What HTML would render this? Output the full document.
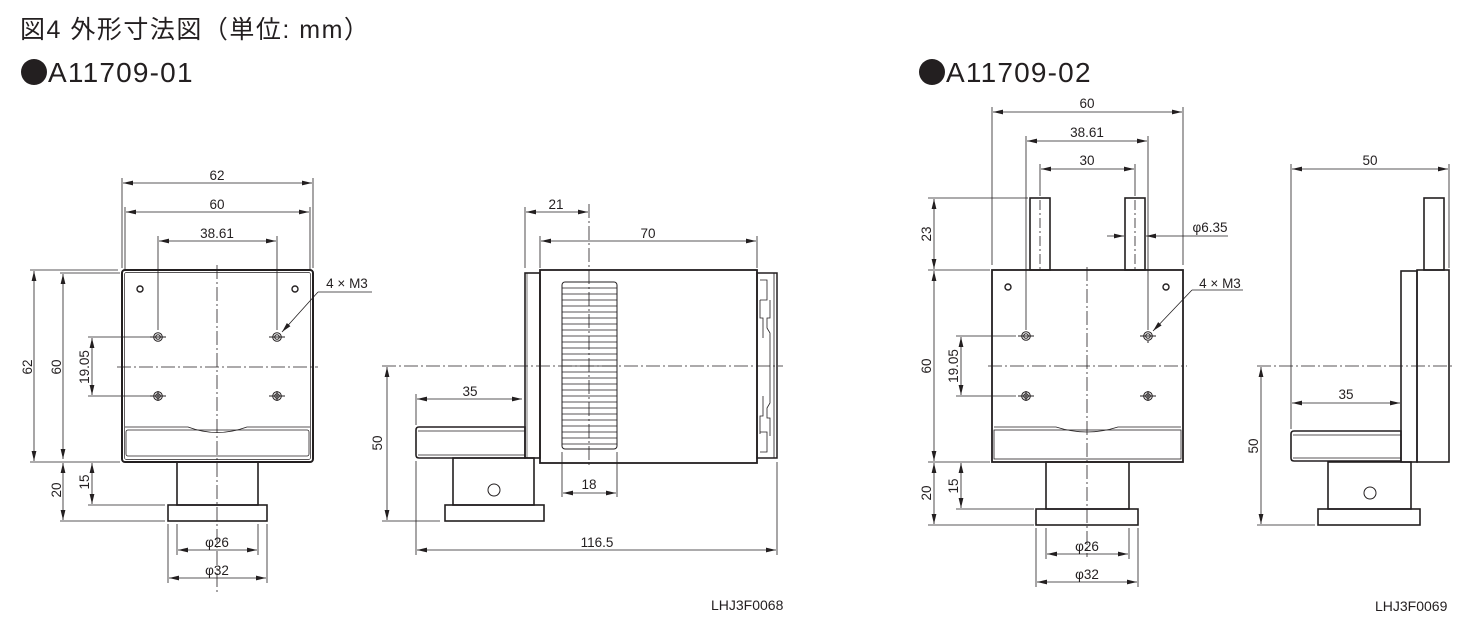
<!DOCTYPE html>
<html><head><meta charset="utf-8"><style>
html,body{margin:0;padding:0;background:#fff;}
svg{display:block;}
text{font-family:"Liberation Sans","Noto Sans CJK JP",sans-serif;fill:#231f20;}
</style></head><body>
<svg width="1482" height="626" viewBox="0 0 1482 626" xmlns="http://www.w3.org/2000/svg">
<defs>
<marker id="a" viewBox="0 0 10 6" refX="10" refY="3" markerWidth="10" markerHeight="6" markerUnits="userSpaceOnUse" orient="auto-start-reverse"><path d="M0,0.6 L10,3 L0,5.4 Z" fill="#231f20"/></marker>
</defs>
<text x="20" y="38" font-size="25" letter-spacing="1.5">図4  外形寸法図（単位: mm）</text>
<circle cx="34" cy="72" r="13" fill="#231f20"/>
<text x="48" y="82" font-size="28" letter-spacing="1.2">A11709-01</text>
<circle cx="932" cy="72" r="13" fill="#231f20"/>
<text x="946" y="82" font-size="28" letter-spacing="1.2">A11709-02</text>
<text x="711" y="610" font-size="14">LHJ3F0068</text>
<text x="1375" y="611" font-size="14">LHJ3F0069</text>

<g fill="none" stroke="#231f20">
<!-- ===== Drawing 1 ===== -->
<g stroke-width="0.8">
<line x1="122" y1="178" x2="122" y2="268"/><line x1="313" y1="178" x2="313" y2="268"/>
<line x1="125" y1="207" x2="125" y2="270"/><line x1="310" y1="207" x2="310" y2="270"/>
<line x1="158" y1="236" x2="158" y2="330"/><line x1="277" y1="236" x2="277" y2="330"/>
<line x1="123" y1="183" x2="312" y2="183" marker-start="url(#a)" marker-end="url(#a)"/>
<line x1="126" y1="212" x2="309" y2="212" marker-start="url(#a)" marker-end="url(#a)"/>
<line x1="159" y1="241" x2="276" y2="241" marker-start="url(#a)" marker-end="url(#a)"/>
<line x1="30" y1="270" x2="118" y2="270"/><line x1="60" y1="273" x2="120" y2="273"/>
<line x1="30" y1="462" x2="120" y2="462"/>
<line x1="34" y1="271" x2="34" y2="461" marker-start="url(#a)" marker-end="url(#a)"/>
<line x1="63" y1="274" x2="63" y2="459" marker-start="url(#a)" marker-end="url(#a)"/>
<line x1="88" y1="337" x2="150" y2="337"/><line x1="88" y1="396" x2="150" y2="396"/>
<line x1="92" y1="338" x2="92" y2="395" marker-start="url(#a)" marker-end="url(#a)"/>
<line x1="88" y1="505" x2="165" y2="505"/><line x1="60" y1="521" x2="165" y2="521"/>
<line x1="63" y1="463" x2="63" y2="520" marker-start="url(#a)" marker-end="url(#a)"/>
<line x1="92" y1="463" x2="92" y2="504" marker-start="url(#a)" marker-end="url(#a)"/>
<line x1="177" y1="524" x2="177" y2="555"/><line x1="258" y1="524" x2="258" y2="555"/>
<line x1="168" y1="524" x2="168" y2="583"/><line x1="267" y1="524" x2="267" y2="583"/>
<line x1="178" y1="550" x2="257" y2="550" marker-start="url(#a)" marker-end="url(#a)"/>
<line x1="169" y1="578" x2="266" y2="578" marker-start="url(#a)" marker-end="url(#a)"/>
<line x1="318" y1="292" x2="372" y2="292"/>
<line x1="318" y1="292" x2="282" y2="332" marker-end="url(#a)"/>
<line x1="217" y1="265" x2="217" y2="592" stroke-dasharray="14,3,2,3"/>
<line x1="117" y1="367" x2="318" y2="367" stroke-dasharray="14,3,2,3"/>
</g>
<rect x="122" y="270" width="191" height="192" rx="3" stroke-width="2"/>
<rect x="124.5" y="272.5" width="186" height="187" rx="2" stroke-width="0.7"/>
<path d="M125,427 L188,427 Q217,438 247,427 L310,427" stroke-width="0.8"/>
<rect x="126" y="430" width="183" height="26" rx="2" stroke-width="0.8"/>
<circle cx="140" cy="289" r="3" stroke-width="1.4"/><circle cx="295" cy="289" r="3" stroke-width="1.4"/>
<g stroke-width="1">
<circle cx="158" cy="337" r="4.3"/><circle cx="158" cy="337" r="2.3"/>
<circle cx="277" cy="337" r="4.3"/><circle cx="277" cy="337" r="2.3"/>
<circle cx="158" cy="396" r="4.3"/><circle cx="158" cy="396" r="2.3"/>
<circle cx="277" cy="396" r="4.3"/><circle cx="277" cy="396" r="2.3"/>
<path d="M150,337h16M269,337h16M150,396h16M269,396h16M158,391v10M277,391v10"/>
</g>
<rect x="177" y="462" width="81" height="43" stroke-width="1.6"/>
<rect x="168" y="505" width="99" height="16" stroke-width="1.6"/>

<!-- ===== Drawing 2 ===== -->
<rect x="525" y="273" width="15" height="185" stroke-width="1.6"/>
<rect x="540" y="270" width="217" height="193" stroke-width="1.8"/>
<rect x="757" y="273" width="20" height="185" stroke-width="1.5"/>
<g stroke-width="0.8">
<path d="M760,280h7v20h-7M760,432h7v20h-7M760,300v18h3v20M760,434v-18h3v-20M770,300v18h-3v10l3,5v70l-3,5v10h3v18M774,273v185"/>
<path d="M527,273v185" stroke-width="0.6"/>
</g>
<rect x="562" y="282" width="55" height="167" rx="3" stroke-width="1"/>
<g stroke-width="0.8">
<path d="M562,288h55M562,294h55M562,300h55M562,306h55M562,312h55M562,318h55M562,324h55M562,330h55M562,336h55M562,342h55M562,348h55M562,354h55M562,360h55M562,366h55M562,372h55M562,378h55M562,384h55M562,390h55M562,396h55M562,402h55M562,408h55M562,414h55M562,420h55M562,426h55M562,432h55M562,438h55M562,444h55"/>
</g>
<path d="M416,430 Q416,427 419,427 L525,427 L525,458 L419,458 Q416,458 416,455 Z" stroke-width="1.6"/>
<path d="M418,431h107M418,455h107" stroke-width="0.7"/>
<rect x="453" y="458" width="81" height="47" stroke-width="1.6"/>
<circle cx="494" cy="490" r="6" stroke-width="1"/>
<rect x="445" y="505" width="99" height="16" stroke-width="1.6"/>
<g stroke-width="0.8">
<line x1="525" y1="207" x2="525" y2="268"/><line x1="540" y1="236" x2="540" y2="268"/>
<line x1="757" y1="236" x2="757" y2="268"/>
<line x1="526" y1="212" x2="588" y2="212" marker-start="url(#a)" marker-end="url(#a)"/>
<line x1="541" y1="241" x2="756" y2="241" marker-start="url(#a)" marker-end="url(#a)"/>
<line x1="416" y1="394" x2="416" y2="425"/>
<line x1="417" y1="399" x2="522" y2="399" marker-start="url(#a)" marker-end="url(#a)"/>
<line x1="382" y1="521" x2="440" y2="521"/>
<line x1="387" y1="367" x2="387" y2="520" marker-start="url(#a)" marker-end="url(#a)"/>
<line x1="562" y1="452" x2="562" y2="497"/><line x1="617" y1="452" x2="617" y2="497"/>
<line x1="563" y1="493" x2="616" y2="493" marker-start="url(#a)" marker-end="url(#a)"/>
<line x1="416" y1="461" x2="416" y2="555"/><line x1="777" y1="462" x2="777" y2="555"/>
<line x1="417" y1="550" x2="776" y2="550" marker-start="url(#a)" marker-end="url(#a)"/>
<line x1="589" y1="204" x2="589" y2="467" stroke-dasharray="14,3,2,3"/>
<line x1="382" y1="366" x2="783" y2="366" stroke-dasharray="14,3,2,3"/>
</g>

<!-- ===== Drawing 3 ===== -->
<rect x="992" y="270" width="191" height="192" stroke-width="1.8"/>
<path d="M994,427 L1056,427 Q1087,437 1118,427 L1181,427" stroke-width="0.8"/>
<rect x="994" y="430" width="187" height="29" stroke-width="0.8"/>
<rect x="1030" y="198" width="20" height="72" stroke-width="1.6"/>
<rect x="1125" y="198" width="20" height="72" stroke-width="1.6"/>
<circle cx="1008" cy="287" r="3" stroke-width="1.4"/><circle cx="1166" cy="287" r="3" stroke-width="1.4"/>
<g stroke-width="1">
<circle cx="1026" cy="336" r="4.3"/><circle cx="1026" cy="336" r="2.3"/>
<circle cx="1148" cy="336" r="4.3"/><circle cx="1148" cy="336" r="2.3"/>
<circle cx="1026" cy="396" r="4.3"/><circle cx="1026" cy="396" r="2.3"/>
<circle cx="1148" cy="396" r="4.3"/><circle cx="1148" cy="396" r="2.3"/>
<path d="M1018,336h16M1140,336h16M1018,396h16M1140,396h16M1026,391v10M1148,391v10M1148,343v-2"/>
</g>
<rect x="1046" y="462" width="83" height="47" stroke-width="1.6"/>
<rect x="1036" y="509" width="102" height="16" stroke-width="1.6"/>
<g stroke-width="0.8">
<line x1="992" y1="107" x2="992" y2="265"/><line x1="1183" y1="107" x2="1183" y2="265"/>
<line x1="993" y1="112" x2="1182" y2="112" marker-start="url(#a)" marker-end="url(#a)"/>
<line x1="1026" y1="136" x2="1026" y2="330"/><line x1="1148" y1="136" x2="1148" y2="330"/>
<line x1="1027" y1="141" x2="1147" y2="141" marker-start="url(#a)" marker-end="url(#a)"/>
<line x1="1040" y1="164" x2="1040" y2="196"/><line x1="1135" y1="164" x2="1135" y2="196"/>
<line x1="1041" y1="169" x2="1134" y2="169" marker-start="url(#a)" marker-end="url(#a)"/>
<line x1="1107" y1="236" x2="1124" y2="236" marker-end="url(#a)"/>
<line x1="1228" y1="236" x2="1146" y2="236" marker-end="url(#a)"/>
<line x1="928" y1="198" x2="1028" y2="198"/>
<line x1="928" y1="270" x2="990" y2="270"/><line x1="928" y1="462" x2="990" y2="462"/>
<line x1="934" y1="199" x2="934" y2="269" marker-start="url(#a)" marker-end="url(#a)"/>
<line x1="934" y1="271" x2="934" y2="461" marker-start="url(#a)" marker-end="url(#a)"/>
<line x1="956" y1="336" x2="1016" y2="336"/><line x1="956" y1="396" x2="1016" y2="396"/>
<line x1="961" y1="337" x2="961" y2="395" marker-start="url(#a)" marker-end="url(#a)"/>
<line x1="956" y1="509" x2="1034" y2="509"/><line x1="928" y1="525" x2="1034" y2="525"/>
<line x1="934" y1="463" x2="934" y2="524" marker-start="url(#a)" marker-end="url(#a)"/>
<line x1="961" y1="463" x2="961" y2="508" marker-start="url(#a)" marker-end="url(#a)"/>
<line x1="1046" y1="528" x2="1046" y2="559"/><line x1="1129" y1="528" x2="1129" y2="559"/>
<line x1="1036" y1="528" x2="1036" y2="587"/><line x1="1138" y1="528" x2="1138" y2="587"/>
<line x1="1047" y1="554" x2="1128" y2="554" marker-start="url(#a)" marker-end="url(#a)"/>
<line x1="1037" y1="582" x2="1137" y2="582" marker-start="url(#a)" marker-end="url(#a)"/>
<line x1="1192" y1="290" x2="1243" y2="290"/>
<line x1="1192" y1="290" x2="1153" y2="331" marker-end="url(#a)"/>
<line x1="1087" y1="267" x2="1087" y2="557" stroke-dasharray="14,3,2,3"/>
<line x1="988" y1="366" x2="1187" y2="366" stroke-dasharray="14,3,2,3"/>
<line x1="1040" y1="200" x2="1040" y2="272" stroke-dasharray="10,3,2,3"/>
<line x1="1135" y1="200" x2="1135" y2="272" stroke-dasharray="10,3,2,3"/>
</g>

<!-- ===== Drawing 4 ===== -->
<rect x="1417" y="270" width="32" height="192" stroke-width="1.6"/>
<rect x="1424" y="198" width="20" height="72" stroke-width="1.6"/>
<rect x="1401" y="271" width="16" height="191" stroke-width="1.6"/>
<path d="M1291,434 Q1291,431 1294,431 L1401,431 L1401,461 L1294,461 Q1291,461 1291,458 Z" stroke-width="1.6"/>
<path d="M1293,435h108M1293,458h108" stroke-width="0.7"/>
<rect x="1328" y="462" width="83" height="47" stroke-width="1.6"/>
<circle cx="1370" cy="493" r="6" stroke-width="1"/>
<rect x="1318" y="509" width="102" height="16" stroke-width="1.6"/>
<g stroke-width="0.8">
<line x1="1291" y1="164" x2="1291" y2="429"/><line x1="1449" y1="164" x2="1449" y2="268"/>
<line x1="1292" y1="169" x2="1448" y2="169" marker-start="url(#a)" marker-end="url(#a)"/>
<line x1="1292" y1="403" x2="1400" y2="403" marker-start="url(#a)" marker-end="url(#a)"/>
<line x1="1257" y1="525" x2="1315" y2="525"/>
<line x1="1261" y1="367" x2="1261" y2="524" marker-start="url(#a)" marker-end="url(#a)"/>
<line x1="1257" y1="366" x2="1455" y2="366" stroke-dasharray="14,3,2,3"/>
</g>
</g>

<g font-size="13.5" text-anchor="middle">
<text x="217" y="180">62</text><text x="217" y="209">60</text><text x="217" y="238">38.61</text>
<text x="347" y="288">4 × M3</text>
<text transform="translate(32,367) rotate(-90)">62</text>
<text transform="translate(61,367) rotate(-90)">60</text>
<text transform="translate(89,367) rotate(-90)">19.05</text>
<text transform="translate(61,490) rotate(-90)">20</text>
<text transform="translate(89,482) rotate(-90)">15</text>
<text x="217" y="547">φ26</text><text x="217" y="575">φ32</text>
<text x="556" y="209">21</text><text x="648" y="238">70</text><text x="470" y="396">35</text>
<text transform="translate(382,443) rotate(-90)">50</text>
<text x="589" y="489">18</text><text x="597" y="547">116.5</text>
<text x="1087" y="108">60</text><text x="1087" y="137">38.61</text><text x="1087" y="165">30</text>
<text x="1210" y="232">φ6.35</text><text x="1220" y="288">4 × M3</text>
<text transform="translate(931,234) rotate(-90)">23</text>
<text transform="translate(931,366) rotate(-90)">60</text>
<text transform="translate(958,366) rotate(-90)">19.05</text>
<text transform="translate(931,493) rotate(-90)">20</text>
<text transform="translate(958,486) rotate(-90)">15</text>
<text x="1087" y="551">φ26</text><text x="1087" y="579">φ32</text>
<text x="1370" y="165">50</text><text x="1346" y="399">35</text>
<text transform="translate(1258,446) rotate(-90)">50</text>
</g>
</svg>
</body></html>
